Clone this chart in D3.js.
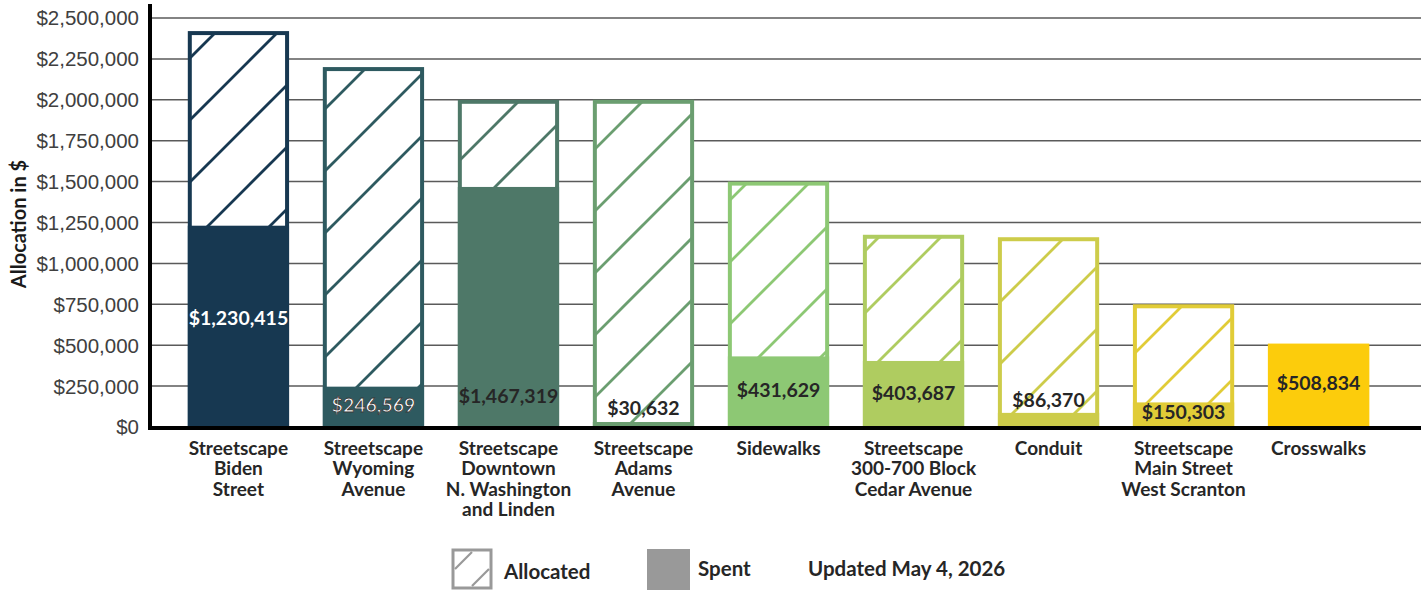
<!DOCTYPE html>
<html>
<head>
<meta charset="utf-8">
<script src="https://cdn.jsdelivr.net/npm/d3@7"></script>
<style>
  body { margin: 0; background: #fff; }
  svg { display: block; font-family: Lato, "Open Sans", sans-serif; }
  .tick-label { fill: #404040; font-size: 20.5px; }
  .cat-label { fill: #262626; font-size: 19px; font-weight: bold; }
  .val-label { font-size: 19.5px; font-weight: bold; }
</style>
</head>
<body>
<div id="chart"></div>
<script>
// categories (lines of the x labels)
var projects = [
	["Streetscape", "Biden", "Street"],
	["Streetscape", "Wyoming", "Avenue"],
	["Streetscape", "Downtown", "N. Washington", "and Linden"],
	["Streetscape", "Adams", "Avenue"],
	["Sidewalks"],
	["Streetscape", "300-700 Block", "Cedar Avenue"],
	["Conduit"],
	["Streetscape", "Main Street", "West Scranton"],
	["Crosswalks"]
];
var allocated = [2420000, 2200000, 2000000, 2000000, 1500000, 1175000, 1160000, 750000, 508834];
var spent     = [1230415, 246569, 1467319, 30632, 431629, 403687, 86370, 150303, 508834];
// where each spent label sits, in dollars
var labelAt   = [665000, 134000, 189000, 116000, 226000, 208000, 165000, 92000, 269000];
var colors    = ["#173851", "#2e5a60", "#4e7868", "#6b9e70", "#8dc874", "#afcc60", "#cdcc4a", "#e1cc37", "#fccc0c"];
var yTicks    = [0, 250000, 500000, 750000, 1000000, 1250000, 1500000, 1750000, 2000000, 2250000, 2500000];

var _outer = { width: 1426, height: 592 };
var _plot = { left: 150, right: 1421, top: 18, bottom: 427 };

var svg = d3.select("#chart").append("svg")
	.attr("width", _outer.width)
	.attr("height", _outer.height);

var defs = svg.append("defs");

var xScale = d3.scaleBand()
	.domain(d3.range(projects.length))
	.range([_plot.left, 1407])
	.paddingInner(0.25)
	.paddingOuter(0.28);

var yScale = d3.scaleLinear()
	.domain([0, 2500000])
	.range([_plot.bottom, _plot.top]);

var fmt = d3.format("$,.0f");

// hatch patterns, one per colour
function hatch(id, color, width) {
	var p = defs.append("pattern")
		.attr("id", id)
		.attr("patternUnits", "userSpaceOnUse")
		.attr("width", 62).attr("height", 62);
	p.append("rect").attr("width", 62).attr("height", 62).attr("fill", "#fff");
	p.append("path")
		.attr("d", "M-2,64 L64,-2 M-33,33 L33,-33 M29,95 L95,29")
		.attr("stroke", color)
		.attr("stroke-width", width);
}
colors.forEach(function(c, i) { hatch("hatch" + i, c, 2.8); });

// gridlines
svg.append("g").attr("class", "grid")
	.selectAll("line")
	.data(yTicks.slice(1))
	.enter().append("line")
	.attr("x1", _plot.left).attr("x2", _plot.right)
	.attr("y1", function(d) { return yScale(d); })
	.attr("y2", function(d) { return yScale(d); })
	.attr("stroke", "#5a5a5a")
	.attr("stroke-width", 1.5);

// y axis tick labels
var yAxis = d3.axisLeft(yScale).tickValues(yTicks).tickFormat(fmt).tickSize(0).tickPadding(11);
var yG = svg.append("g")
	.attr("transform", "translate(" + _plot.left + ",0)")
	.call(yAxis);
yG.select(".domain").remove();
yG.selectAll("text").attr("class", "tick-label").attr("dy", "0.34em");

// allocated bars (hatched, outlined)
var bars = svg.append("g").attr("class", "bars");
bars.selectAll("rect.alloc")
	.data(allocated)
	.enter().append("rect")
	.attr("class", "alloc")
	.attr("x", function(d, i) { return xScale(i) + 2; })
	.attr("width", xScale.bandwidth() - 4)
	.attr("y", function(d) { return yScale(d) + 2; })
	.attr("height", function(d) { return yScale(0) - yScale(d) - 2; })
	.attr("fill", function(d, i) { return "url(#hatch" + i + ")"; })
	.attr("stroke", function(d, i) { return colors[i]; })
	.attr("stroke-width", 4);

// spent bars (solid)
bars.selectAll("rect.spent")
	.data(spent)
	.enter().append("rect")
	.attr("class", "spent")
	.attr("x", function(d, i) { return xScale(i); })
	.attr("width", xScale.bandwidth())
	.attr("y", function(d) { return yScale(d); })
	.attr("height", function(d) { return yScale(0) - yScale(d); })
	.attr("fill", function(d, i) { return colors[i]; });

// value labels
svg.append("g").selectAll("text")
	.data(spent)
	.enter().append("text")
	.attr("class", "val-label")
	.attr("x", function(d, i) { return xScale(i) + xScale.bandwidth() / 2; })
	.attr("y", function(d, i) { return yScale(labelAt[i]); })
	.attr("dy", "0.35em")
	.attr("text-anchor", "middle")
	.attr("fill", function(d, i) { return i < 2 ? "#fff" : "#262626"; })
	.attr("stroke", function(d, i) { return i === 1 ? "#3a3a3a" : "none"; })
	.attr("stroke-width", 0.9)
	.attr("font-size", function(d, i) { return i === 1 ? "20.5px" : null; })
	.attr("font-weight", function(d, i) { return i === 1 ? "normal" : "bold"; })
	.text(function(d) { return fmt(d); });

// axes lines
svg.append("line")
	.attr("x1", _plot.left).attr("x2", _plot.left)
	.attr("y1", 4).attr("y2", _plot.bottom + 3)
	.attr("stroke", "#000").attr("stroke-width", 4);
svg.append("line")
	.attr("x1", _plot.left - 2).attr("x2", _plot.right)
	.attr("y1", _plot.bottom + 1).attr("y2", _plot.bottom + 1)
	.attr("stroke", "#000").attr("stroke-width", 4);

// category labels
var cats = svg.append("g").selectAll("text")
	.data(projects)
	.enter().append("text")
	.attr("class", "cat-label")
	.attr("text-anchor", "middle")
	.attr("x", function(d, i) { return xScale(i) + xScale.bandwidth() / 2; })
	.attr("y", 455);
cats.selectAll("tspan")
	.data(function(d) { return d; })
	.enter().append("tspan")
	.attr("x", function() { return d3.select(this.parentNode).attr("x"); })
	.attr("dy", function(d, j) { return j === 0 ? 0 : 20.3; })
	.text(function(d) { return d; });

// y axis title
svg.append("text")
	.attr("transform", "translate(26," + 224 + ") rotate(-90)")
	.attr("text-anchor", "middle")
	.attr("fill", "#1a1a1a")
	.attr("font-size", 20)
	.attr("font-weight", "bold")
	.text("Allocation in $");

// legend
var legend = svg.append("g").attr("class", "legend");
legend.append("rect")
	.attr("x", 453).attr("y", 550).attr("width", 38).attr("height", 38)
	.attr("fill", "#fff").attr("stroke", "#999").attr("stroke-width", 3);
legend.append("path")
	.attr("d", "M455,569 L472,552 M472,586 L489,569")
	.attr("stroke", "#999").attr("stroke-width", 2.2);
legend.append("text")
	.attr("x", 504).attr("y", 579)
	.attr("fill", "#262626").attr("font-size", 20.5).attr("font-weight", "bold")
	.text("Allocated");
legend.append("rect")
	.attr("x", 647).attr("y", 549).attr("width", 43).attr("height", 41)
	.attr("fill", "#999");
legend.append("text")
	.attr("x", 698).attr("y", 576)
	.attr("fill", "#262626").attr("font-size", 20.5).attr("font-weight", "bold")
	.text("Spent");
legend.append("text")
	.attr("x", 808).attr("y", 576)
	.attr("fill", "#262626").attr("font-size", 20.5).attr("font-weight", "bold")
	.text("Updated May 4, 2026");
</script>
</body>
</html>
